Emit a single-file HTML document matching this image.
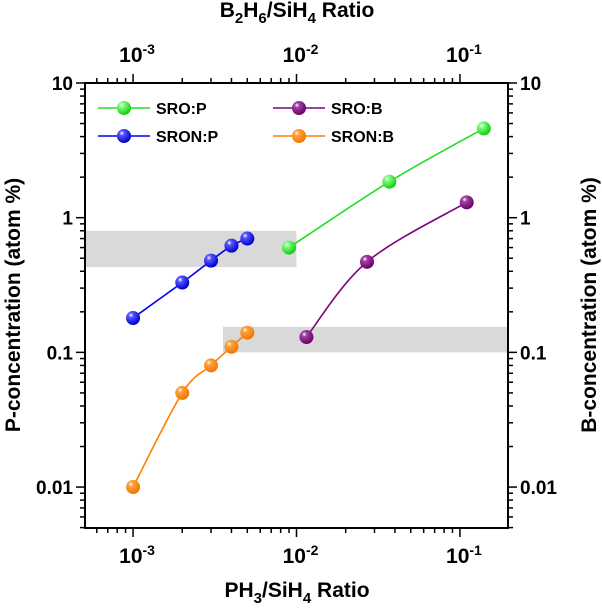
<!DOCTYPE html>
<html><head><meta charset="utf-8"><style>
body{margin:0;background:#fff}
svg text{font-family:"Liberation Sans",Arial,sans-serif;font-weight:bold;fill:#000}
</style></head><body>
<svg id="chart" width="602" height="609" xmlns="http://www.w3.org/2000/svg">
<defs>
<radialGradient id="g-green" cx="0.35" cy="0.3" r="0.7"><stop offset="0" stop-color="#fff"/><stop offset="0.25" stop-color="#7dff7d"/><stop offset="1" stop-color="#11cc11"/></radialGradient>
<radialGradient id="g-blue" cx="0.35" cy="0.3" r="0.7"><stop offset="0" stop-color="#fff"/><stop offset="0.25" stop-color="#5555ff"/><stop offset="1" stop-color="#0000cc"/></radialGradient>
<radialGradient id="g-purple" cx="0.35" cy="0.3" r="0.7"><stop offset="0" stop-color="#fff"/><stop offset="0.25" stop-color="#a040a0"/><stop offset="1" stop-color="#6a006a"/></radialGradient>
<radialGradient id="g-orange" cx="0.35" cy="0.3" r="0.7"><stop offset="0" stop-color="#fff"/><stop offset="0.25" stop-color="#ffa040"/><stop offset="1" stop-color="#f07800"/></radialGradient>
</defs>
<g id="bands"></g>
<g id="series"></g>
<g id="axes"></g>
</svg>
<script>
const sronPX=[0.001,0.002,0.003,0.004,0.005];
const sronPY=[0.18,0.33,0.48,0.62,0.70];
const sronBX=[0.001,0.002,0.003,0.004,0.005];
const sronBY=[0.01,0.05,0.08,0.11,0.14];
const sroPX=[0.009,0.037,0.14];
const sroPY=[0.6,1.85,4.6];
const sroBX=[0.0115,0.027,0.11];
const sroBY=[0.13,0.47,1.3];
const xTicks=[0.001,0.01,0.1];
const xTickLabels=["-3","-2","-1"];
const yTicks=[0.01,0.1,1,10];
const yTickLabels=["0.01","0.1","1","10"];

const L=85,R=508,T=83,B=528;
const xMin=-3.294,xMax=-0.706,yMin=-2.304,yMax=1;
const X=v=>L+(Math.log10(v)-xMin)/(xMax-xMin)*(R-L);
const Y=v=>B-(Math.log10(v)-yMin)/(yMax-yMin)*(B-T);
const NS="http://www.w3.org/2000/svg";
function mk(tag,attrs,parent){const e=document.createElementNS(NS,tag);for(const k in attrs)e.setAttribute(k,attrs[k]);parent.appendChild(e);return e;}
const bands=document.getElementById('bands'),series=document.getElementById('series'),axes=document.getElementById('axes');

let b1=mk('rect',{x:L,y:Y(0.8),width:X(0.01)-L,height:Y(0.43)-Y(0.8),fill:'#d9d9d9'},bands);


let b2=mk('rect',{x:X(0.00355),y:Y(0.155),width:R-X(0.00355),height:Y(0.1)-Y(0.155),fill:'#d9d9d9'},bands);



function spline(pts){
  if(pts.length<3){return 'M'+pts.map(p=>p.join(',')).join('L');}
  let d='M'+pts[0][0]+','+pts[0][1];
  for(let i=0;i<pts.length-1;i++){
    const p0=pts[i-1]||pts[i],p1=pts[i],p2=pts[i+1],p3=pts[i+2]||p2;
    const c1=[p1[0]+(p2[0]-p0[0])/6,p1[1]+(p2[1]-p0[1])/6];
    const c2=[p2[0]-(p3[0]-p1[0])/6,p2[1]-(p3[1]-p1[1])/6];
    d+='C'+c1+' '+c2+' '+p2;
  }
  return d;
}
function drawSeries(name,xs,ys,color,grad){
  const g=mk('g',{},series);
  
  
  const pts=xs.map((x,i)=>[X(x),Y(ys[i])]);
  const p=mk('path',{d:spline(pts),fill:'none',stroke:color,'stroke-width':1.6},g);
  
  
  pts.forEach((pt,i)=>{
    const c=mk('circle',{cx:pt[0],cy:pt[1],r:7,fill:'url(#'+grad+')'},g);
    
    
  });
}
drawSeries('sron-p',sronPX,sronPY,'#0000ee','g-blue');
drawSeries('sron-b',sronBX,sronBY,'#ff8000','g-orange');
drawSeries('sro-p',sroPX,sroPY,'#22dd22','g-green');
drawSeries('sro-b',sroBX,sroBY,'#800080','g-purple');

const leg=[['SRO:P','#22dd22','g-green',98,108],['SRON:P','#0000ee','g-blue',98,136],['SRO:B','#800080','g-purple',273,108],['SRON:B','#ff8000','g-orange',273,136]];
leg.forEach(l=>{
  const g=mk('g',{},axes);
  
  
  mk('line',{x1:l[3],x2:l[3]+52,y1:l[4],y2:l[4],stroke:l[1],'stroke-width':1.6},g);
  mk('circle',{cx:l[3]+26,cy:l[4],r:7,fill:'url(#'+l[2]+')'},g);
  const t=mk('text',{x:l[3]+58,y:l[4]+6,'font-size':16},g);t.textContent=l[0];
});

const fr=mk('rect',{x:L,y:T,width:R-L,height:B-T,fill:'none',stroke:'#000','stroke-width':2},axes);


for(let d=-4;d<0;d++)for(let m=1;m<10;m++){
  const v=m*Math.pow(10,d);const lv=Math.log10(v);if(lv<xMin||lv>xMax)continue;
  const x=X(v),len=m==1?9:5;
  mk('line',{x1:x,x2:x,y1:B,y2:B+len,stroke:'#000','stroke-width':1.5},axes);
  mk('line',{x1:x,x2:x,y1:T,y2:T-len,stroke:'#000','stroke-width':1.5},axes);
}
for(let d=-3;d<2;d++)for(let m=1;m<10;m++){
  const v=m*Math.pow(10,d);const lv=Math.log10(v);if(lv<yMin||lv>yMax+1e-9)continue;
  const y=Y(v),len=m==1?9:5;
  mk('line',{x1:L,x2:L-len,y1:y,y2:y,stroke:'#000','stroke-width':1.5},axes);
  mk('line',{x1:R,x2:R+len,y1:y,y2:y,stroke:'#000','stroke-width':1.5},axes);
}
xTicks.forEach((v,i)=>{
  [[563,'x-tick-label'],[62,'top-x-tick-label']].forEach(a=>{
    const t=mk('text',{x:X(v)+4,y:a[0],'font-size':21,'text-anchor':'middle'},axes);
    
    
    t.innerHTML='10<tspan dy="-8" font-size="14">'+xTickLabels[i]+'</tspan>';
  });
});
yTicks.forEach((v,i)=>{
  const t=mk('text',{x:L-12,y:Y(v)+7,'font-size':19,'text-anchor':'end'},axes);
  
  
  t.textContent=yTickLabels[i];
  const t2=mk('text',{x:R+12,y:Y(v)+7,'font-size':19},axes);
  
  
  t2.textContent=yTickLabels[i];
});
</script>
<svg style="position:absolute;left:0;top:0" width="602" height="609">
<text x="297" y="597" font-size="21" text-anchor="middle">PH<tspan dy="6" font-size="15">3</tspan><tspan dy="-6">/SiH</tspan><tspan dy="6" font-size="15">4</tspan><tspan dy="-6"> Ratio</tspan></text>
<text x="297" y="17" font-size="21" text-anchor="middle">B<tspan dy="6" font-size="15">2</tspan><tspan dy="-6">H</tspan><tspan dy="6" font-size="15">6</tspan><tspan dy="-6">/SiH</tspan><tspan dy="6" font-size="15">4</tspan><tspan dy="-6"> Ratio</tspan></text>
<text transform="translate(20,305) rotate(-90)" font-size="21" text-anchor="middle">P-concentration (atom %)</text>
<text transform="translate(596,305) rotate(-90)" font-size="21" text-anchor="middle">B-concentration (atom %)</text>
</svg>
</body></html>
